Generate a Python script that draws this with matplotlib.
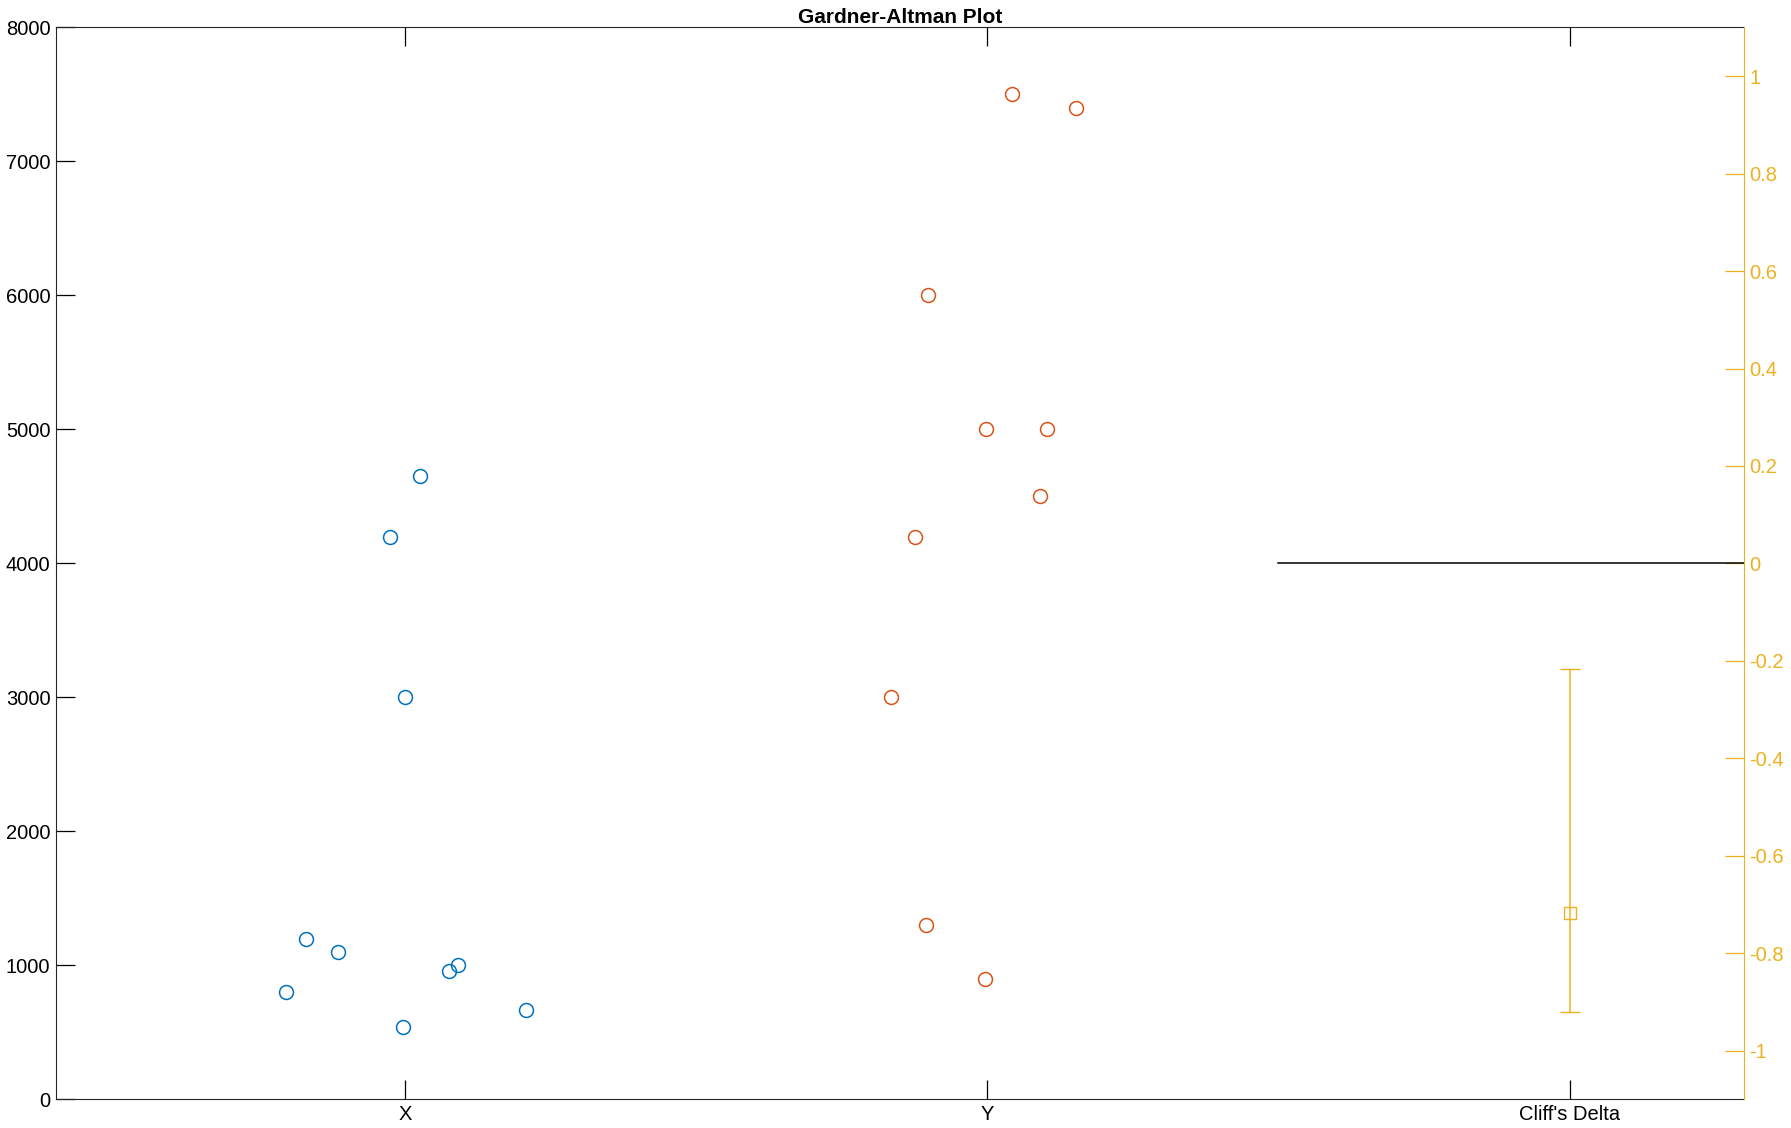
import matplotlib
matplotlib.use("Agg")
import matplotlib.pyplot as plt

plt.rcParams['font.family'] = ['Liberation Sans', 'DejaVu Sans']

categories = ["X", "Y", "Cliff's Delta"]
x_jitter = [0.796, 0.829, 0.884, 0.973, 1.0, 1.025, 0.996, 1.076, 1.09, 1.208]
x_vals = [800, 1200, 1100, 4200, 3000, 4650, 540, 960, 1000, 670]
y_jitter = [2.043, 2.153, 1.898, 1.998, 2.102, 2.09, 1.876, 1.835, 1.894, 1.996]
y_vals = [7500, 7400, 6000, 5000, 5000, 4500, 4200, 3000, 1300, 900]
delta = -0.718
delta_ci = [-0.92, -0.216]

blue, orange, yellow = '#0072BD', '#D95319', '#EDB120'

W, H = 1568, 987
fig = plt.figure(figsize=(17.91, 11.28), dpi=100)
ax = fig.add_axes([49/W, (H-962)/H, (1527-49)/W, (962-24)/H])
ax.plot(x_jitter, x_vals, 'o', mfc='none', mec=blue, ms=10, mew=1.1)
ax.plot(y_jitter, y_vals, 'o', mfc='none', mec=orange, ms=10, mew=1.1)
ax.set_xlim(0.4, 3.3)
ax.set_ylim(0, 8000)
ax.set_xticks([1, 2, 3])
ax.set_xticklabels(categories)
ax.set_yticks(range(0, 8001, 1000))
ax.tick_params(direction='in', length=14, labelsize=14.5, top=True, right=False, width=0.9, pad=4)
for s in ['top', 'bottom', 'left']:
    ax.spines[s].set_color('#262626')
ax.spines['right'].set_visible(False)
ax.set_title('Gardner-Altman Plot', fontweight='bold', fontsize=15, pad=1)

ax2 = ax.twinx()
ax2.set_ylim(-1.1, 1.1)
ax2.plot([2.5, 3.3], [0, 0], color='black', lw=1.1)
ax2.errorbar([3], [delta], yerr=[[delta - delta_ci[0]], [delta_ci[1] - delta]],
             fmt='s', mfc='none', mec=yellow, ecolor=yellow, ms=8, capsize=7, lw=1.1)
ax2.set_xlim(0.4, 3.3)
ax2.set_yticks([-1, -0.8, -0.6, -0.4, -0.2, 0, 0.2, 0.4, 0.6, 0.8, 1])
ax2.set_yticklabels(['-1', '-0.8', '-0.6', '-0.4', '-0.2', '0', '0.2', '0.4', '0.6', '0.8', '1'])
ax2.tick_params(axis='y', direction='in', length=14, colors=yellow, labelsize=14.5, width=0.9)
for s in ['top', 'bottom', 'left']:
    ax2.spines[s].set_visible(False)
ax2.spines['right'].set_color(yellow)

fig.savefig('out.png', dpi=100)
